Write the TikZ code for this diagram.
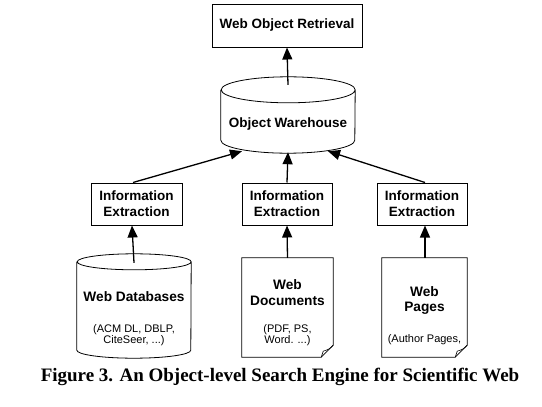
\documentclass[tikz,border=0pt]{standalone}
\usepackage{fontspec}
\setmainfont{Liberation Serif}
\setsansfont{Liberation Sans}
\usetikzlibrary{arrows.meta}

\begin{document}
\begin{tikzpicture}[x=1pt, y=-1pt,
		box/.style={draw, line width=1pt, inner sep=0pt, align=center, font=\sffamily\bfseries\fontsize{13.5}{16}\selectfont},
		shell/.style={inner sep=0pt},
		title/.style={align=center, font=\sffamily\bfseries\fontsize{13.7}{16}\selectfont},
		note/.style={align=center, font=\sffamily\fontsize{11}{11}\selectfont},
		arr/.style={-{Triangle[length=12pt,width=10pt]}, line width=1.3pt}]
			\useasboundingbox (0,0) rectangle (542,407);
		
			\def\fold{12};
		
			% top
			\node[box, minimum width=150pt, minimum height=43pt] (ret) at (287,25.5) {Web Object Retrieval};
			\node[shell, minimum width=134pt, minimum height=76pt] (wh) at (288,115) {};
			\node[title, font=\sffamily\bfseries\fontsize{13.5}{16}\selectfont] (whtext) at (288,124) {Object Warehouse};
		
			% extraction
			\node[box, minimum width=91pt, minimum height=42pt] (ie1) at (136.5,204) {Information\\Extraction};
			\node[box, minimum width=90pt, minimum height=42pt] (ie2) at (287,204) {Information\\Extraction};
			\node[box, minimum width=90pt, minimum height=42pt] (ie3) at (422,204) {Information\\Extraction};
		
			% sources
			\node[shell, minimum width=114pt, minimum height=104pt] (dbs) at (134,306) {};
			\node[title] (dbstitle) at (134,297) {Web Databases};
			\node[note] (dbsnote) at (134,335.5) {(ACM DL, DBLP,\\CiteSeer, ...)};
		
			\node[shell, minimum width=91pt, minimum height=99pt] (doc) at (287.5,307.5) {};
			\node[title] (doctitle) at (287.5,293) {Web\\Documents};
			\node[note] (docnote) at (287.5,335.5) {(PDF, PS,\\Word. ...)};
		
			\node[shell, minimum width=85pt, minimum height=99pt] (pg) at (424.5,307.5) {};
			\node[title, font=\sffamily\bfseries\fontsize{13.7}{15}\selectfont] (pgtitle) at (424.5,300.5) {Web\\Pages};
			\node[note] (pgnote) at (424.5,340) {(Author Pages,};
		
			% cylinders
			\foreach \n/\rx/\ry in {wh/67/13, dbs/57/8} {
				\draw[line width=0.8pt] ([yshift=-\ry pt]\n.north west) -- ([yshift=\ry pt]\n.south west)
					arc[start angle=180, end angle=360, x radius=\rx pt, y radius=\ry pt] -- ([yshift=-\ry pt]\n.north east)
					arc[start angle=0, end angle=180, x radius=\rx pt, y radius=\ry pt]
					arc[start angle=180, end angle=360, x radius=\rx pt, y radius=\ry pt];
			}
		
			% pages with folded corner
			\foreach \p in {doc, pg} {
				\draw[line width=0.8pt] (\p.north west) -- (\p.north east) -- ([yshift=\fold pt]\p.south east) -- ([xshift=-\fold pt]\p.south east) -- (\p.south west) -- cycle;
				\draw[line width=0.6pt] ([yshift=\fold pt]\p.south east) .. controls ([xshift=-4pt, yshift=8pt]\p.south east) .. ([xshift=-10pt, yshift=6pt]\p.south east) -- ([xshift=-\fold pt]\p.south east);
			}
		
			% arrows
			\draw[arr] ([yshift=-8pt]wh.north) -- (ret.south);
			\draw[arr] ([xshift=-3.5pt]ie1.north) -- ([xshift=-46pt, yshift=2pt]wh.south);
			\draw[arr] (ie2.north) -- ([yshift=1pt]wh.south);
			\draw[arr] ([xshift=3pt]ie3.north) -- ([xshift=40pt, yshift=2pt]wh.south);
		
			\draw[arr] ([yshift=-9pt]dbs.north) -- ([xshift=-4.5pt]ie1.south);
			\draw[arr] (doc.north) -- (ie2.south);
			\draw[arr] ([xshift=0.5pt]pg.north) -- ([xshift=3pt]ie3.south);
		
			\node[font=\bfseries\fontsize{19}{21}\selectfont] (cap) at (280,377) {Figure 3. An Object-level Search Engine for Scientific Web};
		\end{tikzpicture}
\end{document}
